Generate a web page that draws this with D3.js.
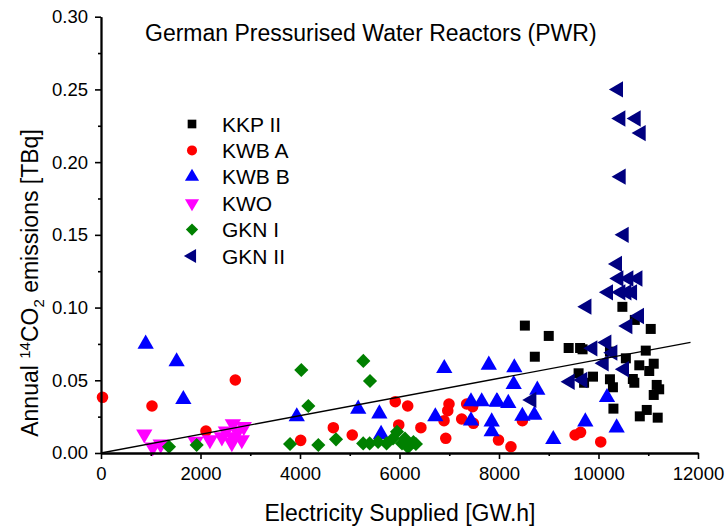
<!DOCTYPE html>
<html><head><meta charset="utf-8">
<script src="https://cdn.jsdelivr.net/npm/d3@7"></script>
<style>body{margin:0;background:#fff;}svg{display:block;font-family:"Liberation Sans",Arial,sans-serif;}</style>
</head><body>
<script>
const xTicks = [0,2000,4000,6000,8000,10000,12000];
const yTicks = [0.00,0.05,0.10,0.15,0.20,0.25,0.30];
const seriesNames = ["KKP II","KWB A","KWB B","KWO","GKN I","GKN II"];
const seriesColors = ["#000000","#ff0000","#0000ff","#ff00ff","#008000","#000080"];

const kkp2 = [[10480,0.1005],[10730,0.0915],[11050,0.0853],[8520,0.0876],[9000,0.0805],[8720,0.0662],[9400,0.0722],[9630,0.0722],[9680,0.0713],[10230,0.0697],[10550,0.0651],[10950,0.0704],[10820,0.0603],[11110,0.0614],[11020,0.0564],[9600,0.0548],[9890,0.0525],[9710,0.0483],[10230,0.0507],[10290,0.0452],[10690,0.0509],[10720,0.0483],[11170,0.0468],[11220,0.0438],[11110,0.0399],[10300,0.0305],[10970,0.0296],[10830,0.0252],[11190,0.0243]];
const kwbA = [[30,0.0383],[1025,0.0323],[2700,0.0502],[2110,0.0151],[4014,0.0087],[4670,0.0174],[5050,0.0124],[5915,0.0353],[6165,0.0323],[5985,0.0193],[6430,0.0174],[6930,0.0101],[6895,0.0222],[6970,0.0291],[6995,0.0337],[7250,0.0234],[7350,0.0337],[7470,0.0319],[7485,0.0204],[7990,0.0089],[8470,0.0222],[8240,0.0043],[9530,0.0124],[9640,0.0142],[10045,0.0076]];
const kwbB = [[898,0.075],[1520,0.0628],[1655,0.0369],[3935,0.025],[5170,0.0303],[5595,0.027],[5630,0.0129],[6900,0.0582],[7795,0.0605],[6720,0.025],[7437,0.0353],[7652,0.0353],[7954,0.0353],[7437,0.0222],[7853,0.0215],[7853,0.0147],[8308,0.0587],[8295,0.0472],[8770,0.0433],[7966,0.0351],[8187,0.0342],[8469,0.0254],[8710,0.0261],[9091,0.0094],[10171,0.0383],[9735,0.0215],[10365,0.0174]];
const kwo = [[870,0.013],[1040,0.004],[1200,0.006],[1900,0.008],[2190,0.009],[2510,0.015],[2650,0.020],[2750,0.015],[2830,0.009],[2630,0.007],[2650,0.011],[2870,0.018],[2430,0.011]];
const gkn1 = [[1367,0.0043],[1923,0.0055],[3800,0.0062],[4026,0.0571],[4167,0.0323],[4368,0.0055],[4724,0.0094],[5273,0.0633],[5407,0.0495],[5270,0.0066],[5400,0.0066],[5570,0.0076],[5740,0.0066],[5950,0.0146],[5870,0.010],[6110,0.010],[6280,0.0076],[6170,0.004],[6050,0.0066],[6330,0.0062]];
const gkn2 = [[10398,0.250],[10446,0.230],[10754,0.230],[10854,0.220],[10452,0.190],[10512,0.150],[10378,0.130],[10406,0.120],[10607,0.120],[10788,0.120],[10197,0.1105],[10446,0.1105],[10567,0.1105],[10680,0.1105],[9763,0.1006],[10820,0.0942],[10586,0.0873],[9883,0.072],[10164,0.0759],[10285,0.069],[10110,0.0617],[10518,0.0576],[9427,0.049],[9682,0.0502],[8657,0.0365]];
const fitLine = [[0,0],[11850,0.0761]];

const allSeries = [kkp2,kwbA,kwbB,kwo,gkn1,gkn2];
const W=728,H=529;
const svg=d3.select("body").append("svg").attr("width",W).attr("height",H);
const x=d3.scaleLinear().domain([0,12000]).range([101,698]);
const y=d3.scaleLinear().domain([0,0.30]).range([453,16.7]);

function sym(i,s){
  const tri=d3.symbol().type(d3.symbolTriangle).size(s*1.15)();
  if(i===0) return {d:d3.symbol().type(d3.symbolSquare).size(s)(),rot:0};
  if(i===1) return {d:d3.symbol().type(d3.symbolCircle).size(s*1.05)(),rot:0};
  if(i===2) return {d:tri,rot:0};
  if(i===3) return {d:tri,rot:180};
  if(i===4) return {d:d3.symbol().type(d3.symbolSquare).size(s*1.0)(),rot:45};
  return {d:tri,rot:-90};
}

const plot=svg.append("g");
allSeries.forEach((data,i)=>{
  const s=sym(i,100);
  plot.append("g").selectAll("path").data(data).join("path")
    .attr("d",s.d)
    .attr("transform",d=>`translate(${x(d[0])},${y(d[1])}) rotate(${s.rot})`)
    .attr("fill",seriesColors[i]);
});

svg.append("line").attr("x1",x(fitLine[0][0])).attr("y1",y(fitLine[0][1]))
  .attr("x2",x(fitLine[1][0])).attr("y2",y(fitLine[1][1]))
  .attr("stroke","#000").attr("stroke-width",1.3);

const xAx=svg.append("g").attr("transform","translate(0,453)")
  .call(d3.axisBottom(x).tickValues(xTicks).tickFormat(d3.format("d")).tickSizeInner(6).tickSizeOuter(0).tickPadding(8));
const xMinor=svg.append("g").attr("transform","translate(0,453)")
  .call(d3.axisBottom(x).tickValues(d3.range(1000,12000,2000)).tickFormat("").tickSizeInner(3).tickSizeOuter(0));
const yAx=svg.append("g").attr("transform","translate(101,0)")
  .call(d3.axisLeft(y).tickValues(yTicks).tickFormat(d3.format(".2f")).tickSizeInner(6).tickSizeOuter(0).tickPadding(7));
const yMinor=svg.append("g").attr("transform","translate(101,0)")
  .call(d3.axisLeft(y).tickValues(d3.range(0.025,0.3,0.05)).tickFormat("").tickSizeInner(3).tickSizeOuter(0));
[xAx,xMinor,yAx,yMinor].forEach(g=>{
  g.selectAll("path.domain").attr("stroke","#000").attr("stroke-width",1.8);
  g.selectAll(".tick line").attr("stroke","#000").attr("stroke-width",1.6);
  g.selectAll("text").attr("font-size",18.5).attr("fill","#000").attr("font-family","Liberation Sans, Arial, sans-serif");
});

svg.append("text").attr("x",400).attr("y",521).attr("text-anchor","middle")
  .attr("font-size",23).text("Electricity Supplied [GW.h]");
const yt=svg.append("text").attr("transform","translate(38,283) rotate(-90)").attr("text-anchor","middle").attr("font-size",23);
yt.append("tspan").text("Annual ");
yt.append("tspan").attr("font-size",15).attr("dy",-8).text("14");
yt.append("tspan").attr("dy",8).text("CO");
yt.append("tspan").attr("font-size",15).attr("dy",6).text("2");
yt.append("tspan").attr("dy",-6).text(" emissions [TBq]");

svg.append("text").attr("x",145).attr("y",41).attr("font-size",23).text("German Pressurised Water Reactors (PWR)");

const leg=svg.append("g");
seriesNames.forEach((n,i)=>{
  const yy=124+i*26.4;
  const s=sym(i,75);
  leg.append("path").attr("d",s.d).attr("transform",`translate(192,${yy}) rotate(${s.rot})`).attr("fill",seriesColors[i]);
  leg.append("text").attr("x",222).attr("y",yy+7.5).attr("font-size",21).text(n);
});
</script>
</body></html>
